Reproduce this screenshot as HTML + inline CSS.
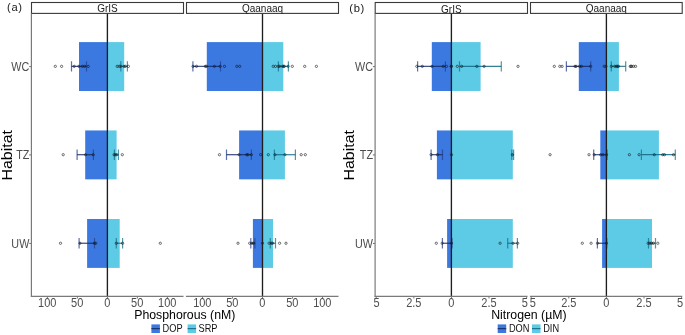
<!DOCTYPE html>
<html><head><meta charset="utf-8"><style>
html,body{margin:0;padding:0;background:#fff;}
svg{display:block;font-family:"Liberation Sans",sans-serif;will-change:transform;}
</style></head><body>
<svg width="685" height="335" viewBox="0 0 685 335">
<rect width="685" height="335" fill="#fff"/>
<rect x="79" y="42.1" width="28.4" height="48.9" fill="#3b79e0"/>
<rect x="107.4" y="42.1" width="16.8" height="48.9" fill="#5dcae6"/>
<rect x="85.2" y="130.45" width="22.2" height="48.9" fill="#3b79e0"/>
<rect x="107.4" y="130.45" width="9.2" height="48.9" fill="#5dcae6"/>
<rect x="87.1" y="219" width="20.3" height="48.9" fill="#3b79e0"/>
<rect x="107.4" y="219" width="12.3" height="48.9" fill="#5dcae6"/>
<path d="M71.5 61.15V71.55M86.5 61.15V71.55" stroke="rgba(35,65,145,0.75)" stroke-width="1.2" fill="none"/>
<path d="M71.5 66.35H86.5" stroke="rgba(20,40,100,0.85)" stroke-width="1.2" fill="none"/>
<path d="M120.8 61.15V71.55M127.4 61.15V71.55" stroke="rgba(20,115,140,0.75)" stroke-width="1.2" fill="none"/>
<path d="M120.8 66.35H127.4" stroke="rgba(15,105,130,0.85)" stroke-width="1.2" fill="none"/>
<path d="M77.1 149.5V159.9M93.4 149.5V159.9" stroke="rgba(35,65,145,0.75)" stroke-width="1.2" fill="none"/>
<path d="M77.1 154.7H93.4" stroke="rgba(20,40,100,0.85)" stroke-width="1.2" fill="none"/>
<path d="M114.4 149.5V159.9M118.4 149.5V159.9" stroke="rgba(20,115,140,0.75)" stroke-width="1.2" fill="none"/>
<path d="M114.4 154.7H118.4" stroke="rgba(15,105,130,0.85)" stroke-width="1.2" fill="none"/>
<path d="M79.1 238.05V248.45M94.5 238.05V248.45" stroke="rgba(35,65,145,0.75)" stroke-width="1.2" fill="none"/>
<path d="M79.1 243.25H94.5" stroke="rgba(20,40,100,0.85)" stroke-width="1.2" fill="none"/>
<path d="M116.3 238.05V248.45M122.6 238.05V248.45" stroke="rgba(20,115,140,0.75)" stroke-width="1.2" fill="none"/>
<path d="M116.3 243.25H122.6" stroke="rgba(15,105,130,0.85)" stroke-width="1.2" fill="none"/>
<circle cx="55.3" cy="66.35" r="1.15" fill="none" stroke="rgba(20,20,20,0.85)" stroke-width="0.7"/>
<circle cx="61.6" cy="66.35" r="1.15" fill="none" stroke="rgba(20,20,20,0.85)" stroke-width="0.7"/>
<circle cx="74.2" cy="66.35" r="1.15" fill="none" stroke="rgba(20,20,20,0.85)" stroke-width="0.7"/>
<circle cx="78.9" cy="66.35" r="1.15" fill="none" stroke="rgba(20,20,20,0.85)" stroke-width="0.7"/>
<circle cx="82.4" cy="66.35" r="1.15" fill="none" stroke="rgba(20,20,20,0.85)" stroke-width="0.7"/>
<circle cx="84.7" cy="66.35" r="1.15" fill="none" stroke="rgba(20,20,20,0.85)" stroke-width="0.7"/>
<circle cx="88.2" cy="66.35" r="1.15" fill="none" stroke="rgba(20,20,20,0.85)" stroke-width="0.7"/>
<circle cx="117.2" cy="66.35" r="1.15" fill="none" stroke="rgba(20,20,20,0.85)" stroke-width="0.7"/>
<circle cx="119.3" cy="66.35" r="1.15" fill="none" stroke="rgba(20,20,20,0.85)" stroke-width="0.7"/>
<circle cx="120.8" cy="66.35" r="1.15" fill="none" stroke="rgba(20,20,20,0.85)" stroke-width="0.7"/>
<circle cx="124" cy="66.35" r="1.15" fill="none" stroke="rgba(20,20,20,0.85)" stroke-width="0.7"/>
<circle cx="125.4" cy="66.35" r="1.15" fill="none" stroke="rgba(20,20,20,0.85)" stroke-width="0.7"/>
<circle cx="128.4" cy="66.35" r="1.15" fill="none" stroke="rgba(20,20,20,0.85)" stroke-width="0.7"/>
<circle cx="63.2" cy="154.7" r="1.15" fill="none" stroke="rgba(20,20,20,0.85)" stroke-width="0.7"/>
<circle cx="85.6" cy="154.7" r="1.15" fill="none" stroke="rgba(20,20,20,0.85)" stroke-width="0.7"/>
<circle cx="93.3" cy="154.7" r="1.15" fill="none" stroke="rgba(20,20,20,0.85)" stroke-width="0.7"/>
<circle cx="114.1" cy="154.7" r="1.15" fill="none" stroke="rgba(20,20,20,0.85)" stroke-width="0.7"/>
<circle cx="115.3" cy="154.7" r="1.15" fill="none" stroke="rgba(20,20,20,0.85)" stroke-width="0.7"/>
<circle cx="116.8" cy="154.7" r="1.15" fill="none" stroke="rgba(20,20,20,0.85)" stroke-width="0.7"/>
<circle cx="122.3" cy="154.7" r="1.15" fill="none" stroke="rgba(20,20,20,0.85)" stroke-width="0.7"/>
<circle cx="60.5" cy="243.25" r="1.15" fill="none" stroke="rgba(20,20,20,0.85)" stroke-width="0.7"/>
<circle cx="79.9" cy="243.25" r="1.15" fill="none" stroke="rgba(20,20,20,0.85)" stroke-width="0.7"/>
<circle cx="94.4" cy="243.25" r="1.15" fill="none" stroke="rgba(20,20,20,0.85)" stroke-width="0.7"/>
<circle cx="95.8" cy="243.25" r="1.15" fill="none" stroke="rgba(20,20,20,0.85)" stroke-width="0.7"/>
<circle cx="116.3" cy="243.25" r="1.15" fill="none" stroke="rgba(20,20,20,0.85)" stroke-width="0.7"/>
<circle cx="122.6" cy="243.25" r="1.15" fill="none" stroke="rgba(20,20,20,0.85)" stroke-width="0.7"/>
<circle cx="160.3" cy="243.25" r="1.15" fill="none" stroke="rgba(20,20,20,0.85)" stroke-width="0.7"/>
<line x1="107.4" y1="13.4" x2="107.4" y2="296.3" stroke="#1e1e1e" stroke-width="1.35"/>
<rect x="31.5" y="2.5" width="152" height="10.9" fill="#fff" stroke="#3a3a3a" stroke-width="1.1"/>
<text x="107.5" y="11.9" font-size="10" text-anchor="middle" fill="#1a1a1a">GrIS</text>
<line x1="30.9" y1="296.3" x2="183.5" y2="296.3" stroke="#7a7a7a" stroke-width="1.2"/>
<rect x="206.8" y="42.1" width="55.7" height="48.9" fill="#3b79e0"/>
<rect x="262.5" y="42.1" width="20.8" height="48.9" fill="#5dcae6"/>
<rect x="239.1" y="130.45" width="23.4" height="48.9" fill="#3b79e0"/>
<rect x="262.5" y="130.45" width="22.4" height="48.9" fill="#5dcae6"/>
<rect x="252.9" y="219" width="9.6" height="48.9" fill="#3b79e0"/>
<rect x="262.5" y="219" width="10.5" height="48.9" fill="#5dcae6"/>
<path d="M192.9 61.15V71.55M220.5 61.15V71.55" stroke="rgba(35,65,145,0.75)" stroke-width="1.2" fill="none"/>
<path d="M192.9 66.35H220.5" stroke="rgba(20,40,100,0.85)" stroke-width="1.2" fill="none"/>
<path d="M278.4 61.15V71.55M288.4 61.15V71.55" stroke="rgba(20,115,140,0.75)" stroke-width="1.2" fill="none"/>
<path d="M278.4 66.35H288.4" stroke="rgba(15,105,130,0.85)" stroke-width="1.2" fill="none"/>
<path d="M226.5 149.5V159.9M251.4 149.5V159.9" stroke="rgba(35,65,145,0.75)" stroke-width="1.2" fill="none"/>
<path d="M226.5 154.7H251.4" stroke="rgba(20,40,100,0.85)" stroke-width="1.2" fill="none"/>
<path d="M274.4 149.5V159.9M295.4 149.5V159.9" stroke="rgba(20,115,140,0.75)" stroke-width="1.2" fill="none"/>
<path d="M274.4 154.7H295.4" stroke="rgba(15,105,130,0.85)" stroke-width="1.2" fill="none"/>
<path d="M250.8 238.05V248.45M254.9 238.05V248.45" stroke="rgba(35,65,145,0.75)" stroke-width="1.2" fill="none"/>
<path d="M250.8 243.25H254.9" stroke="rgba(20,40,100,0.85)" stroke-width="1.2" fill="none"/>
<path d="M270.3 238.05V248.45M275.5 238.05V248.45" stroke="rgba(20,115,140,0.75)" stroke-width="1.2" fill="none"/>
<path d="M270.3 243.25H275.5" stroke="rgba(15,105,130,0.85)" stroke-width="1.2" fill="none"/>
<circle cx="193" cy="66.35" r="1.15" fill="none" stroke="rgba(20,20,20,0.85)" stroke-width="0.7"/>
<circle cx="196.5" cy="66.35" r="1.15" fill="none" stroke="rgba(20,20,20,0.85)" stroke-width="0.7"/>
<circle cx="205.3" cy="66.35" r="1.15" fill="none" stroke="rgba(20,20,20,0.85)" stroke-width="0.7"/>
<circle cx="206.5" cy="66.35" r="1.15" fill="none" stroke="rgba(20,20,20,0.85)" stroke-width="0.7"/>
<circle cx="214.4" cy="66.35" r="1.15" fill="none" stroke="rgba(20,20,20,0.85)" stroke-width="0.7"/>
<circle cx="220.2" cy="66.35" r="1.15" fill="none" stroke="rgba(20,20,20,0.85)" stroke-width="0.7"/>
<circle cx="224.5" cy="66.35" r="1.15" fill="none" stroke="rgba(20,20,20,0.85)" stroke-width="0.7"/>
<circle cx="236.8" cy="66.35" r="1.15" fill="none" stroke="rgba(20,20,20,0.85)" stroke-width="0.7"/>
<circle cx="239.7" cy="66.35" r="1.15" fill="none" stroke="rgba(20,20,20,0.85)" stroke-width="0.7"/>
<circle cx="273.2" cy="66.35" r="1.15" fill="none" stroke="rgba(20,20,20,0.85)" stroke-width="0.7"/>
<circle cx="275.5" cy="66.35" r="1.15" fill="none" stroke="rgba(20,20,20,0.85)" stroke-width="0.7"/>
<circle cx="278.3" cy="66.35" r="1.15" fill="none" stroke="rgba(20,20,20,0.85)" stroke-width="0.7"/>
<circle cx="279.6" cy="66.35" r="1.15" fill="none" stroke="rgba(20,20,20,0.85)" stroke-width="0.7"/>
<circle cx="282.5" cy="66.35" r="1.15" fill="none" stroke="rgba(20,20,20,0.85)" stroke-width="0.7"/>
<circle cx="283.6" cy="66.35" r="1.15" fill="none" stroke="rgba(20,20,20,0.85)" stroke-width="0.7"/>
<circle cx="284.3" cy="66.35" r="1.15" fill="none" stroke="rgba(20,20,20,0.85)" stroke-width="0.7"/>
<circle cx="288.2" cy="66.35" r="1.15" fill="none" stroke="rgba(20,20,20,0.85)" stroke-width="0.7"/>
<circle cx="292.3" cy="66.35" r="1.15" fill="none" stroke="rgba(20,20,20,0.85)" stroke-width="0.7"/>
<circle cx="304.7" cy="66.35" r="1.15" fill="none" stroke="rgba(20,20,20,0.85)" stroke-width="0.7"/>
<circle cx="316.4" cy="66.35" r="1.15" fill="none" stroke="rgba(20,20,20,0.85)" stroke-width="0.7"/>
<circle cx="219.5" cy="154.7" r="1.15" fill="none" stroke="rgba(20,20,20,0.85)" stroke-width="0.7"/>
<circle cx="239.1" cy="154.7" r="1.15" fill="none" stroke="rgba(20,20,20,0.85)" stroke-width="0.7"/>
<circle cx="246.7" cy="154.7" r="1.15" fill="none" stroke="rgba(20,20,20,0.85)" stroke-width="0.7"/>
<circle cx="247.9" cy="154.7" r="1.15" fill="none" stroke="rgba(20,20,20,0.85)" stroke-width="0.7"/>
<circle cx="251.4" cy="154.7" r="1.15" fill="none" stroke="rgba(20,20,20,0.85)" stroke-width="0.7"/>
<circle cx="260.7" cy="154.7" r="1.15" fill="none" stroke="rgba(20,20,20,0.85)" stroke-width="0.7"/>
<circle cx="268.3" cy="154.7" r="1.15" fill="none" stroke="rgba(20,20,20,0.85)" stroke-width="0.7"/>
<circle cx="274.9" cy="154.7" r="1.15" fill="none" stroke="rgba(20,20,20,0.85)" stroke-width="0.7"/>
<circle cx="284.9" cy="154.7" r="1.15" fill="none" stroke="rgba(20,20,20,0.85)" stroke-width="0.7"/>
<circle cx="301.2" cy="154.7" r="1.15" fill="none" stroke="rgba(20,20,20,0.85)" stroke-width="0.7"/>
<circle cx="305.3" cy="154.7" r="1.15" fill="none" stroke="rgba(20,20,20,0.85)" stroke-width="0.7"/>
<circle cx="238" cy="243.25" r="1.15" fill="none" stroke="rgba(20,20,20,0.85)" stroke-width="0.7"/>
<circle cx="249.7" cy="243.25" r="1.15" fill="none" stroke="rgba(20,20,20,0.85)" stroke-width="0.7"/>
<circle cx="252" cy="243.25" r="1.15" fill="none" stroke="rgba(20,20,20,0.85)" stroke-width="0.7"/>
<circle cx="253.7" cy="243.25" r="1.15" fill="none" stroke="rgba(20,20,20,0.85)" stroke-width="0.7"/>
<circle cx="262.5" cy="243.25" r="1.15" fill="none" stroke="rgba(20,20,20,0.85)" stroke-width="0.7"/>
<circle cx="269.1" cy="243.25" r="1.15" fill="none" stroke="rgba(20,20,20,0.85)" stroke-width="0.7"/>
<circle cx="271.4" cy="243.25" r="1.15" fill="none" stroke="rgba(20,20,20,0.85)" stroke-width="0.7"/>
<circle cx="272.6" cy="243.25" r="1.15" fill="none" stroke="rgba(20,20,20,0.85)" stroke-width="0.7"/>
<circle cx="279.6" cy="243.25" r="1.15" fill="none" stroke="rgba(20,20,20,0.85)" stroke-width="0.7"/>
<circle cx="286" cy="243.25" r="1.15" fill="none" stroke="rgba(20,20,20,0.85)" stroke-width="0.7"/>
<line x1="262.5" y1="13.4" x2="262.5" y2="296.3" stroke="#1e1e1e" stroke-width="1.35"/>
<rect x="186.5" y="2.5" width="152" height="10.9" fill="#fff" stroke="#3a3a3a" stroke-width="1.1"/>
<text x="262.5" y="11.55" font-size="10" text-anchor="middle" fill="#1a1a1a">Qaanaaq</text>
<line x1="185.9" y1="296.3" x2="338.5" y2="296.3" stroke="#7a7a7a" stroke-width="1.2"/>
<rect x="431.8" y="42.1" width="19.6" height="48.9" fill="#3b79e0"/>
<rect x="451.4" y="42.1" width="29.2" height="48.9" fill="#5dcae6"/>
<rect x="436.9" y="130.45" width="14.5" height="48.9" fill="#3b79e0"/>
<rect x="451.4" y="130.45" width="61.4" height="48.9" fill="#5dcae6"/>
<rect x="447.1" y="219" width="4.3" height="48.9" fill="#3b79e0"/>
<rect x="451.4" y="219" width="61.4" height="48.9" fill="#5dcae6"/>
<path d="M417.6 61.15V71.55M445.4 61.15V71.55" stroke="rgba(35,65,145,0.75)" stroke-width="1.2" fill="none"/>
<path d="M417.6 66.35H445.4" stroke="rgba(20,40,100,0.85)" stroke-width="1.2" fill="none"/>
<path d="M459.5 61.15V71.55M501.3 61.15V71.55" stroke="rgba(20,115,140,0.75)" stroke-width="1.2" fill="none"/>
<path d="M459.5 66.35H501.3" stroke="rgba(15,105,130,0.85)" stroke-width="1.2" fill="none"/>
<path d="M431.1 149.5V159.9M442.5 149.5V159.9" stroke="rgba(35,65,145,0.75)" stroke-width="1.2" fill="none"/>
<path d="M431.1 154.7H442.5" stroke="rgba(20,40,100,0.85)" stroke-width="1.2" fill="none"/>
<path d="M511.8 149.5V159.9M513.6 149.5V159.9" stroke="rgba(20,115,140,0.75)" stroke-width="1.2" fill="none"/>
<path d="M511.8 154.7H513.6" stroke="rgba(15,105,130,0.85)" stroke-width="1.2" fill="none"/>
<path d="M442.4 238.05V248.45M452 238.05V248.45" stroke="rgba(35,65,145,0.75)" stroke-width="1.2" fill="none"/>
<path d="M442.4 243.25H452" stroke="rgba(20,40,100,0.85)" stroke-width="1.2" fill="none"/>
<path d="M507.7 238.05V248.45M517.4 238.05V248.45" stroke="rgba(20,115,140,0.75)" stroke-width="1.2" fill="none"/>
<path d="M507.7 243.25H517.4" stroke="rgba(15,105,130,0.85)" stroke-width="1.2" fill="none"/>
<circle cx="416.8" cy="66.35" r="1.15" fill="none" stroke="rgba(20,20,20,0.85)" stroke-width="0.7"/>
<circle cx="422.3" cy="66.35" r="1.15" fill="none" stroke="rgba(20,20,20,0.85)" stroke-width="0.7"/>
<circle cx="432" cy="66.35" r="1.15" fill="none" stroke="rgba(20,20,20,0.85)" stroke-width="0.7"/>
<circle cx="443.3" cy="66.35" r="1.15" fill="none" stroke="rgba(20,20,20,0.85)" stroke-width="0.7"/>
<circle cx="446.5" cy="66.35" r="1.15" fill="none" stroke="rgba(20,20,20,0.85)" stroke-width="0.7"/>
<circle cx="451.5" cy="66.35" r="1.15" fill="none" stroke="rgba(20,20,20,0.85)" stroke-width="0.7"/>
<circle cx="451.1" cy="66.35" r="1.15" fill="none" stroke="rgba(20,20,20,0.85)" stroke-width="0.7"/>
<circle cx="457.3" cy="66.35" r="1.15" fill="none" stroke="rgba(20,20,20,0.85)" stroke-width="0.7"/>
<circle cx="461.6" cy="66.35" r="1.15" fill="none" stroke="rgba(20,20,20,0.85)" stroke-width="0.7"/>
<circle cx="476.8" cy="66.35" r="1.15" fill="none" stroke="rgba(20,20,20,0.85)" stroke-width="0.7"/>
<circle cx="484.1" cy="66.35" r="1.15" fill="none" stroke="rgba(20,20,20,0.85)" stroke-width="0.7"/>
<circle cx="518" cy="66.35" r="1.15" fill="none" stroke="rgba(20,20,20,0.85)" stroke-width="0.7"/>
<circle cx="431.1" cy="154.7" r="1.15" fill="none" stroke="rgba(20,20,20,0.85)" stroke-width="0.7"/>
<circle cx="437.5" cy="154.7" r="1.15" fill="none" stroke="rgba(20,20,20,0.85)" stroke-width="0.7"/>
<circle cx="451.5" cy="154.7" r="1.15" fill="none" stroke="rgba(20,20,20,0.85)" stroke-width="0.7"/>
<circle cx="512.4" cy="154.7" r="1.15" fill="none" stroke="rgba(20,20,20,0.85)" stroke-width="0.7"/>
<circle cx="436.3" cy="243.25" r="1.15" fill="none" stroke="rgba(20,20,20,0.85)" stroke-width="0.7"/>
<circle cx="442.2" cy="243.25" r="1.15" fill="none" stroke="rgba(20,20,20,0.85)" stroke-width="0.7"/>
<circle cx="451.5" cy="243.25" r="1.15" fill="none" stroke="rgba(20,20,20,0.85)" stroke-width="0.7"/>
<circle cx="500.1" cy="243.25" r="1.15" fill="none" stroke="rgba(20,20,20,0.85)" stroke-width="0.7"/>
<circle cx="513" cy="243.25" r="1.15" fill="none" stroke="rgba(20,20,20,0.85)" stroke-width="0.7"/>
<circle cx="517.7" cy="243.25" r="1.15" fill="none" stroke="rgba(20,20,20,0.85)" stroke-width="0.7"/>
<line x1="451.4" y1="13.4" x2="451.4" y2="296.3" stroke="#1e1e1e" stroke-width="1.35"/>
<rect x="375.2" y="2.5" width="152.3" height="10.9" fill="#fff" stroke="#3a3a3a" stroke-width="1.1"/>
<text x="451.35" y="12.6" font-size="10" text-anchor="middle" fill="#1a1a1a">GrIS</text>
<line x1="374.6" y1="296.3" x2="527.5" y2="296.3" stroke="#7a7a7a" stroke-width="1.2"/>
<rect x="578.8" y="42.1" width="27.6" height="48.9" fill="#3b79e0"/>
<rect x="606.4" y="42.1" width="12.5" height="48.9" fill="#5dcae6"/>
<rect x="600.3" y="130.45" width="6.1" height="48.9" fill="#3b79e0"/>
<rect x="606.4" y="130.45" width="52.5" height="48.9" fill="#5dcae6"/>
<rect x="602.1" y="219" width="4.3" height="48.9" fill="#3b79e0"/>
<rect x="606.4" y="219" width="45.6" height="48.9" fill="#5dcae6"/>
<path d="M566.4 61.15V71.55M590.7 61.15V71.55" stroke="rgba(35,65,145,0.75)" stroke-width="1.2" fill="none"/>
<path d="M566.4 66.35H590.7" stroke="rgba(20,40,100,0.85)" stroke-width="1.2" fill="none"/>
<path d="M611.3 61.15V71.55M625.7 61.15V71.55" stroke="rgba(20,115,140,0.75)" stroke-width="1.2" fill="none"/>
<path d="M611.3 66.35H625.7" stroke="rgba(15,105,130,0.85)" stroke-width="1.2" fill="none"/>
<path d="M593.7 149.5V159.9M607 149.5V159.9" stroke="rgba(35,65,145,0.75)" stroke-width="1.2" fill="none"/>
<path d="M593.7 154.7H607" stroke="rgba(20,40,100,0.85)" stroke-width="1.2" fill="none"/>
<path d="M641.4 149.5V159.9M675.3 149.5V159.9" stroke="rgba(20,115,140,0.75)" stroke-width="1.2" fill="none"/>
<path d="M641.4 154.7H675.3" stroke="rgba(15,105,130,0.85)" stroke-width="1.2" fill="none"/>
<path d="M597.4 238.05V248.45M606.8 238.05V248.45" stroke="rgba(35,65,145,0.75)" stroke-width="1.2" fill="none"/>
<path d="M597.4 243.25H606.8" stroke="rgba(20,40,100,0.85)" stroke-width="1.2" fill="none"/>
<path d="M648.5 238.05V248.45M655.5 238.05V248.45" stroke="rgba(20,115,140,0.75)" stroke-width="1.2" fill="none"/>
<path d="M648.5 243.25H655.5" stroke="rgba(15,105,130,0.85)" stroke-width="1.2" fill="none"/>
<circle cx="554.3" cy="66.35" r="1.15" fill="none" stroke="rgba(20,20,20,0.85)" stroke-width="0.7"/>
<circle cx="559.8" cy="66.35" r="1.15" fill="none" stroke="rgba(20,20,20,0.85)" stroke-width="0.7"/>
<circle cx="562.1" cy="66.35" r="1.15" fill="none" stroke="rgba(20,20,20,0.85)" stroke-width="0.7"/>
<circle cx="575" cy="66.35" r="1.15" fill="none" stroke="rgba(20,20,20,0.85)" stroke-width="0.7"/>
<circle cx="576.1" cy="66.35" r="1.15" fill="none" stroke="rgba(20,20,20,0.85)" stroke-width="0.7"/>
<circle cx="579.6" cy="66.35" r="1.15" fill="none" stroke="rgba(20,20,20,0.85)" stroke-width="0.7"/>
<circle cx="581.4" cy="66.35" r="1.15" fill="none" stroke="rgba(20,20,20,0.85)" stroke-width="0.7"/>
<circle cx="590.7" cy="66.35" r="1.15" fill="none" stroke="rgba(20,20,20,0.85)" stroke-width="0.7"/>
<circle cx="604.2" cy="66.35" r="1.15" fill="none" stroke="rgba(20,20,20,0.85)" stroke-width="0.7"/>
<circle cx="606" cy="66.35" r="1.15" fill="none" stroke="rgba(20,20,20,0.85)" stroke-width="0.7"/>
<circle cx="611.3" cy="66.35" r="1.15" fill="none" stroke="rgba(20,20,20,0.85)" stroke-width="0.7"/>
<circle cx="614.8" cy="66.35" r="1.15" fill="none" stroke="rgba(20,20,20,0.85)" stroke-width="0.7"/>
<circle cx="616.5" cy="66.35" r="1.15" fill="none" stroke="rgba(20,20,20,0.85)" stroke-width="0.7"/>
<circle cx="617.5" cy="66.35" r="1.15" fill="none" stroke="rgba(20,20,20,0.85)" stroke-width="0.7"/>
<circle cx="618.5" cy="66.35" r="1.15" fill="none" stroke="rgba(20,20,20,0.85)" stroke-width="0.7"/>
<circle cx="630.2" cy="66.35" r="1.15" fill="none" stroke="rgba(20,20,20,0.85)" stroke-width="0.7"/>
<circle cx="631" cy="66.35" r="1.15" fill="none" stroke="rgba(20,20,20,0.85)" stroke-width="0.7"/>
<circle cx="631.8" cy="66.35" r="1.15" fill="none" stroke="rgba(20,20,20,0.85)" stroke-width="0.7"/>
<circle cx="633.6" cy="66.35" r="1.15" fill="none" stroke="rgba(20,20,20,0.85)" stroke-width="0.7"/>
<circle cx="635.6" cy="66.35" r="1.15" fill="none" stroke="rgba(20,20,20,0.85)" stroke-width="0.7"/>
<circle cx="550.1" cy="154.7" r="1.15" fill="none" stroke="rgba(20,20,20,0.85)" stroke-width="0.7"/>
<circle cx="589" cy="154.7" r="1.15" fill="none" stroke="rgba(20,20,20,0.85)" stroke-width="0.7"/>
<circle cx="594.2" cy="154.7" r="1.15" fill="none" stroke="rgba(20,20,20,0.85)" stroke-width="0.7"/>
<circle cx="600.7" cy="154.7" r="1.15" fill="none" stroke="rgba(20,20,20,0.85)" stroke-width="0.7"/>
<circle cx="603" cy="154.7" r="1.15" fill="none" stroke="rgba(20,20,20,0.85)" stroke-width="0.7"/>
<circle cx="606.5" cy="154.7" r="1.15" fill="none" stroke="rgba(20,20,20,0.85)" stroke-width="0.7"/>
<circle cx="629.4" cy="154.7" r="1.15" fill="none" stroke="rgba(20,20,20,0.85)" stroke-width="0.7"/>
<circle cx="639.1" cy="154.7" r="1.15" fill="none" stroke="rgba(20,20,20,0.85)" stroke-width="0.7"/>
<circle cx="654.3" cy="154.7" r="1.15" fill="none" stroke="rgba(20,20,20,0.85)" stroke-width="0.7"/>
<circle cx="662.7" cy="154.7" r="1.15" fill="none" stroke="rgba(20,20,20,0.85)" stroke-width="0.7"/>
<circle cx="664.5" cy="154.7" r="1.15" fill="none" stroke="rgba(20,20,20,0.85)" stroke-width="0.7"/>
<circle cx="673.5" cy="154.7" r="1.15" fill="none" stroke="rgba(20,20,20,0.85)" stroke-width="0.7"/>
<circle cx="582.3" cy="243.25" r="1.15" fill="none" stroke="rgba(20,20,20,0.85)" stroke-width="0.7"/>
<circle cx="591.1" cy="243.25" r="1.15" fill="none" stroke="rgba(20,20,20,0.85)" stroke-width="0.7"/>
<circle cx="597.5" cy="243.25" r="1.15" fill="none" stroke="rgba(20,20,20,0.85)" stroke-width="0.7"/>
<circle cx="606.5" cy="243.25" r="1.15" fill="none" stroke="rgba(20,20,20,0.85)" stroke-width="0.7"/>
<circle cx="648.1" cy="243.25" r="1.15" fill="none" stroke="rgba(20,20,20,0.85)" stroke-width="0.7"/>
<circle cx="649.9" cy="243.25" r="1.15" fill="none" stroke="rgba(20,20,20,0.85)" stroke-width="0.7"/>
<circle cx="651.6" cy="243.25" r="1.15" fill="none" stroke="rgba(20,20,20,0.85)" stroke-width="0.7"/>
<circle cx="653.4" cy="243.25" r="1.15" fill="none" stroke="rgba(20,20,20,0.85)" stroke-width="0.7"/>
<circle cx="657.8" cy="243.25" r="1.15" fill="none" stroke="rgba(20,20,20,0.85)" stroke-width="0.7"/>
<line x1="606.4" y1="13.4" x2="606.4" y2="296.3" stroke="#1e1e1e" stroke-width="1.35"/>
<rect x="530.5" y="2.5" width="151.7" height="10.9" fill="#fff" stroke="#3a3a3a" stroke-width="1.1"/>
<text x="606.35" y="12.3" font-size="10" text-anchor="middle" fill="#1a1a1a">Qaanaaq</text>
<line x1="529.9" y1="296.3" x2="682.2" y2="296.3" stroke="#7a7a7a" stroke-width="1.2"/>
<line x1="31.4" y1="13.4" x2="31.4" y2="296.90000000000003" stroke="#7a7a7a" stroke-width="1.2"/>
<line x1="29.2" y1="66.55" x2="31.4" y2="66.55" stroke="#7a7a7a" stroke-width="1.1"/>
<text transform="translate(29.3,70.85) scale(0.87,1)" font-size="12.4" text-anchor="end" fill="#4d4d4d">WC</text>
<line x1="29.2" y1="154.9" x2="31.4" y2="154.9" stroke="#7a7a7a" stroke-width="1.1"/>
<text transform="translate(29.3,159.2) scale(0.87,1)" font-size="12.4" text-anchor="end" fill="#4d4d4d">TZ</text>
<line x1="29.2" y1="243.45" x2="31.4" y2="243.45" stroke="#7a7a7a" stroke-width="1.1"/>
<text transform="translate(29.3,247.75) scale(0.87,1)" font-size="12.4" text-anchor="end" fill="#4d4d4d">UW</text>
<text transform="translate(11.9,155.3) rotate(-90) scale(1,0.96)" font-size="15.9" text-anchor="middle" fill="#000">Habitat</text>
<text x="6.9" y="11.0" font-size="11.2" fill="#1a1a1a">(<tspan dx="0.8">a</tspan><tspan dx="0.5">)</tspan></text>
<line x1="375.1" y1="13.4" x2="375.1" y2="296.90000000000003" stroke="#7a7a7a" stroke-width="1.2"/>
<line x1="372.9" y1="66.55" x2="375.1" y2="66.55" stroke="#7a7a7a" stroke-width="1.1"/>
<text transform="translate(373,70.85) scale(0.87,1)" font-size="12.4" text-anchor="end" fill="#4d4d4d">WC</text>
<line x1="372.9" y1="154.9" x2="375.1" y2="154.9" stroke="#7a7a7a" stroke-width="1.1"/>
<text transform="translate(373,159.2) scale(0.87,1)" font-size="12.4" text-anchor="end" fill="#4d4d4d">TZ</text>
<line x1="372.9" y1="243.45" x2="375.1" y2="243.45" stroke="#7a7a7a" stroke-width="1.1"/>
<text transform="translate(373,247.75) scale(0.87,1)" font-size="12.4" text-anchor="end" fill="#4d4d4d">UW</text>
<text transform="translate(354.2,155.3) rotate(-90) scale(1,0.96)" font-size="15.9" text-anchor="middle" fill="#000">Habitat</text>
<text x="349.3" y="12.1" font-size="11.2" fill="#1a1a1a">(<tspan dx="0.8">b</tspan><tspan dx="0.5">)</tspan></text>
<line x1="47.4" y1="296.3" x2="47.4" y2="298.5" stroke="#7a7a7a" stroke-width="1.0"/>
<text transform="translate(47.2,306.7) scale(0.88,1)" font-size="12.5" text-anchor="middle" fill="#4d4d4d">100</text>
<line x1="77.4" y1="296.3" x2="77.4" y2="298.5" stroke="#7a7a7a" stroke-width="1.0"/>
<text transform="translate(77.2,306.7) scale(0.88,1)" font-size="12.5" text-anchor="middle" fill="#4d4d4d">50</text>
<line x1="107.4" y1="296.3" x2="107.4" y2="298.5" stroke="#7a7a7a" stroke-width="1.0"/>
<text transform="translate(107.2,306.7) scale(0.88,1)" font-size="12.5" text-anchor="middle" fill="#4d4d4d">0</text>
<line x1="137.4" y1="296.3" x2="137.4" y2="298.5" stroke="#7a7a7a" stroke-width="1.0"/>
<text transform="translate(137.2,306.7) scale(0.88,1)" font-size="12.5" text-anchor="middle" fill="#4d4d4d">50</text>
<line x1="167.4" y1="296.3" x2="167.4" y2="298.5" stroke="#7a7a7a" stroke-width="1.0"/>
<text transform="translate(167.2,306.7) scale(0.88,1)" font-size="12.5" text-anchor="middle" fill="#4d4d4d">100</text>
<line x1="202.5" y1="296.3" x2="202.5" y2="298.5" stroke="#7a7a7a" stroke-width="1.0"/>
<text transform="translate(202.3,306.7) scale(0.88,1)" font-size="12.5" text-anchor="middle" fill="#4d4d4d">100</text>
<line x1="232.5" y1="296.3" x2="232.5" y2="298.5" stroke="#7a7a7a" stroke-width="1.0"/>
<text transform="translate(232.3,306.7) scale(0.88,1)" font-size="12.5" text-anchor="middle" fill="#4d4d4d">50</text>
<line x1="262.5" y1="296.3" x2="262.5" y2="298.5" stroke="#7a7a7a" stroke-width="1.0"/>
<text transform="translate(262.3,306.7) scale(0.88,1)" font-size="12.5" text-anchor="middle" fill="#4d4d4d">0</text>
<line x1="292.5" y1="296.3" x2="292.5" y2="298.5" stroke="#7a7a7a" stroke-width="1.0"/>
<text transform="translate(292.3,306.7) scale(0.88,1)" font-size="12.5" text-anchor="middle" fill="#4d4d4d">50</text>
<line x1="322.5" y1="296.3" x2="322.5" y2="298.5" stroke="#7a7a7a" stroke-width="1.0"/>
<text transform="translate(322.3,306.7) scale(0.88,1)" font-size="12.5" text-anchor="middle" fill="#4d4d4d">100</text>
<line x1="413.8" y1="296.3" x2="413.8" y2="298.5" stroke="#7a7a7a" stroke-width="1.0"/>
<text transform="translate(413.8,306.7) scale(0.88,1)" font-size="12.5" text-anchor="middle" fill="#4d4d4d">2.5</text>
<line x1="451.4" y1="296.3" x2="451.4" y2="298.5" stroke="#7a7a7a" stroke-width="1.0"/>
<text transform="translate(451.4,306.7) scale(0.88,1)" font-size="12.5" text-anchor="middle" fill="#4d4d4d">0</text>
<line x1="489" y1="296.3" x2="489" y2="298.5" stroke="#7a7a7a" stroke-width="1.0"/>
<text transform="translate(489,306.7) scale(0.88,1)" font-size="12.5" text-anchor="middle" fill="#4d4d4d">2.5</text>
<line x1="376.2" y1="296.3" x2="376.2" y2="298.5" stroke="#7a7a7a" stroke-width="1.0"/>
<line x1="526.6" y1="296.3" x2="526.6" y2="298.5" stroke="#7a7a7a" stroke-width="1.0"/>
<text transform="translate(376.5,306.7) scale(0.88,1)" font-size="12.5" text-anchor="middle" fill="#4d4d4d">5</text>
<text transform="translate(524.8,306.7) scale(0.88,1)" font-size="12.5" text-anchor="middle" fill="#4d4d4d">5</text>
<line x1="568.8" y1="296.3" x2="568.8" y2="298.5" stroke="#7a7a7a" stroke-width="1.0"/>
<text transform="translate(568.8,306.7) scale(0.88,1)" font-size="12.5" text-anchor="middle" fill="#4d4d4d">2.5</text>
<line x1="606.4" y1="296.3" x2="606.4" y2="298.5" stroke="#7a7a7a" stroke-width="1.0"/>
<text transform="translate(606.4,306.7) scale(0.88,1)" font-size="12.5" text-anchor="middle" fill="#4d4d4d">0</text>
<line x1="644" y1="296.3" x2="644" y2="298.5" stroke="#7a7a7a" stroke-width="1.0"/>
<text transform="translate(644,306.7) scale(0.88,1)" font-size="12.5" text-anchor="middle" fill="#4d4d4d">2.5</text>
<line x1="531.2" y1="296.3" x2="531.2" y2="298.5" stroke="#7a7a7a" stroke-width="1.0"/>
<line x1="681.6" y1="296.3" x2="681.6" y2="298.5" stroke="#7a7a7a" stroke-width="1.0"/>
<text transform="translate(532.7,306.7) scale(0.88,1)" font-size="12.5" text-anchor="middle" fill="#4d4d4d">5</text>
<text transform="translate(680,306.7) scale(0.88,1)" font-size="12.5" text-anchor="middle" fill="#4d4d4d">5</text>
<text x="184.8" y="319.2" font-size="12.3" text-anchor="middle" fill="#000">Phosphorous (nM)</text>
<text x="528.9" y="319.2" font-size="12.3" text-anchor="middle" fill="#000">Nitrogen (µM)</text>
<rect x="151.4" y="324.4" width="8.5" height="8.6" fill="#3b79e0"/>
<line x1="151.4" y1="328.6" x2="159.9" y2="328.6" stroke="rgba(20,40,100,0.85)" stroke-width="1.2"/>
<text transform="translate(162.6,331.8) scale(0.88,1)" font-size="10.5" fill="#111">DOP</text>
<rect x="187.6" y="324.4" width="8.5" height="8.6" fill="#5dcae6"/>
<line x1="187.6" y1="328.6" x2="196.1" y2="328.6" stroke="rgba(15,105,130,0.85)" stroke-width="1.2"/>
<text transform="translate(198.5,331.8) scale(0.88,1)" font-size="10.5" fill="#111">SRP</text>
<rect x="497.7" y="324.4" width="8.5" height="8.6" fill="#3b79e0"/>
<line x1="497.7" y1="328.6" x2="506.2" y2="328.6" stroke="rgba(20,40,100,0.85)" stroke-width="1.2"/>
<text transform="translate(508.9,331.8) scale(0.88,1)" font-size="10.5" fill="#111">DON</text>
<rect x="532" y="324.4" width="8.5" height="8.6" fill="#5dcae6"/>
<line x1="532" y1="328.6" x2="540.5" y2="328.6" stroke="rgba(15,105,130,0.85)" stroke-width="1.2"/>
<text transform="translate(543.2,331.8) scale(0.88,1)" font-size="10.5" fill="#111">DIN</text>
</svg>
</body></html>
